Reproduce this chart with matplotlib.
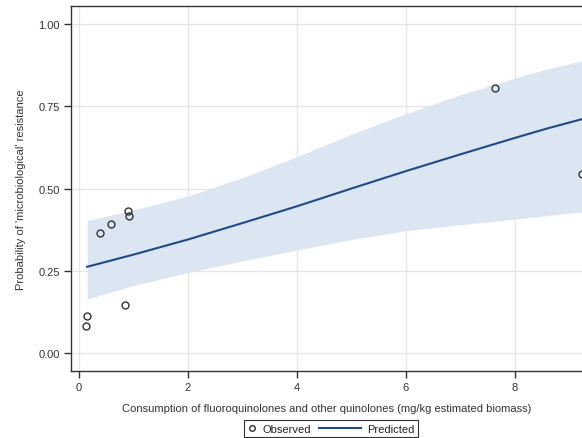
import matplotlib.pyplot as plt
from matplotlib.legend_handler import HandlerLine2D
from matplotlib.lines import Line2D

plt.rcParams['font.family'] = ['Liberation Sans', 'DejaVu Sans']

# observed proportions by consumption
obs_x = [0.13, 0.15, 0.39, 0.59, 0.84, 0.90, 0.92, 7.63, 9.23]
obs_y = [0.082, 0.112, 0.365, 0.392, 0.146, 0.432, 0.416, 0.805, 0.544]

# fitted probability with 95% band
fit_x = [0.15, 1, 2, 3, 4, 5, 6, 7, 8, 8.6, 9.23]
fit_p = [0.262, 0.299, 0.345, 0.395, 0.446, 0.500, 0.553, 0.604, 0.654, 0.683, 0.711]
fit_lo = [0.164, 0.205, 0.245, 0.280, 0.313, 0.345, 0.372, 0.390, 0.407, 0.418, 0.429]
fit_hi = [0.402, 0.435, 0.477, 0.533, 0.597, 0.665, 0.728, 0.785, 0.836, 0.864, 0.888]

xticks = [0, 2, 4, 6, 8]
yticks = [0.00, 0.25, 0.50, 0.75, 1.00]


class LongLine(HandlerLine2D):
    # legend line that reaches back into the column gap
    def create_artists(self, legend, orig_handle, xdescent, ydescent,
                       width, height, fontsize, trans):
        ext = 3.0 * fontsize
        y = (height - ydescent) / 2.0
        ln = Line2D([-xdescent - ext, -xdescent + width], [y, y])
        self.update_prop(ln, orig_handle, legend)
        ln.set_marker('None')
        ln.set_transform(trans)
        return [ln]


fig = plt.figure(figsize=(5.82, 4.39), dpi=100)
ax = fig.add_axes([0.122, 0.1526, 0.878, 0.8314])

ax.fill_between(fit_x, fit_lo, fit_hi, color='#dce5f2', lw=0, zorder=1)
line, = ax.plot(fit_x, fit_p, color='#1f4a8a', lw=1.5, zorder=3, label='Predicted')
pts, = ax.plot(obs_x, obs_y, ls='none', marker='o', ms=5, mfc='none', mec='#333333',
               mew=1.0, zorder=4, label='Observed', clip_on=False)

ax.set_xlim(-0.147, 9.23)
ax.set_ylim(-0.055, 1.055)
ax.set_xticks(xticks)
ax.set_xticklabels([str(t) for t in xticks])
ax.set_yticks(yticks)
ax.set_yticklabels(['%.2f' % t for t in yticks])
ax.grid(True, color='#e6e6e6', lw=0.9, zorder=0)
ax.set_axisbelow(True)

for s in ['left', 'bottom', 'top']:
    ax.spines[s].set_color('#333333')
    ax.spines[s].set_linewidth(1.0)
ax.spines['right'].set_visible(False)
ax.tick_params(direction='out', length=5, width=1, color='#333333',
               labelsize=8, labelcolor='#333333', pad=3)

ax.set_xlabel('Consumption of fluoroquinolones and other quinolones (mg/kg estimated biomass)',
              fontsize=8, color='#333333', labelpad=8)
ax.set_ylabel("Probability of 'microbiological' resistance", fontsize=8, color='#333333',
              labelpad=9)

leg = fig.legend([pts, line], ['Observed', 'Predicted'], loc='center',
                 bbox_to_anchor=(0.569, 0.021), ncol=2, fontsize=8, frameon=True,
                 fancybox=False, edgecolor='black', borderpad=0.3, handlelength=0.7,
                 handletextpad=0.6, columnspacing=3.8, borderaxespad=0, markerscale=0.8,
                 handler_map={pts: HandlerLine2D(numpoints=1), line: LongLine()})
leg.get_frame().set_linewidth(0.8)
for t in leg.get_texts():
    t.set_color('#222222')

fig.savefig('out.png', dpi=100)
